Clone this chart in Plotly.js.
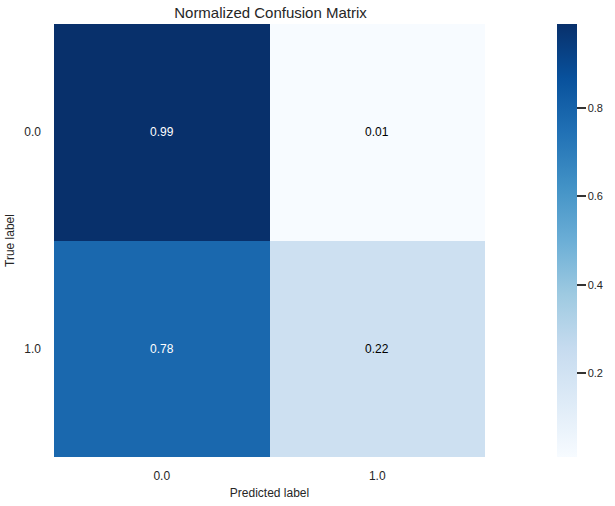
<!DOCTYPE html>
<html>
<head>
<meta charset="utf-8">
<script src="https://cdn.plot.ly/plotly-3.0.1.min.js"></script>
<style>
  html, body { margin: 0; padding: 0; background: #fff; }
  #chart { width: 615px; height: 506px; }
</style>
</head>
<body>
<div id="chart"></div>
<script>
// confusion matrix, rows = true label, cols = predicted label
const predictedLabels = ["0.0", "1.0"];
const trueLabels = ["0.0", "1.0"];
const rowTrue0 = [0.99, 0.01];
const rowTrue1 = [0.78, 0.22];
const cbTicks = [0.2, 0.4, 0.6, 0.8];

// matplotlib "Blues"
const blues = ["#f7fbff", "#deebf7", "#c6dbef", "#9ecae1", "#6baed6",
  "#4292c6", "#2171b5", "#08519c", "#08306b"];
const colorscale = blues.map((c, i) => [i / (blues.length - 1), c]);

const z = [rowTrue0, rowTrue1];
const flat = z.flat();
const zMin = Math.min(...flat);
const zMax = Math.max(...flat);
const FONT = "Liberation Sans, Arial, sans-serif";
const INK = "#262626";

const trace = {
  type: "heatmap",
  x: predictedLabels,
  y: trueLabels,
  z,
  zmin: zMin,
  zmax: zMax,
  colorscale,
  xgap: 0,
  ygap: 0,
  hoverinfo: "skip",
  colorbar: {
    x: 1.166,
    xanchor: "left",
    y: 0.5,
    yanchor: "middle",
    len: 1,
    lenmode: "fraction",
    thickness: 20,
    outlinewidth: 0,
    ticks: "outside",
    ticklen: 9,
    tickwidth: 2,
    tickcolor: "#333",
    tickvals: cbTicks,
    ticktext: cbTicks.map((v) => v.toFixed(1)),
    tickfont: { family: FONT, size: 11, color: INK },
    xpad: 0,
    ypad: 0,
  },
};

// cell labels: white on dark cells, black on light ones
const mid = (zMin + zMax) / 2;
const annotations = [];
z.forEach((row, r) => {
  row.forEach((v, c) => {
    annotations.push({
      x: predictedLabels[c],
      y: trueLabels[r],
      xref: "x",
      yref: "y",
      text: v.toFixed(2),
      showarrow: false,
      font: { family: FONT, size: 12, color: v > mid ? "#ffffff" : "#000000" },
    });
  });
});

const layout = {
  width: 615,
  height: 506,
  margin: { l: 54, r: 128, t: 24, b: 49 },
  paper_bgcolor: "#fff",
  plot_bgcolor: "#fff",
  font: { family: FONT, color: INK },
  title: {
    text: "Normalized Confusion Matrix",
    font: { family: FONT, size: 15, color: INK },
    x: (54 + 433 / 2) / 615,
    xanchor: "center",
    y: 1 - 13 / 506,
    yanchor: "middle",
  },
  xaxis: {
    type: "category",
    title: { text: "Predicted label", font: { size: 12, color: INK }, standoff: 6 },
    tickfont: { size: 12, color: INK },
    showgrid: false,
    zeroline: false,
    showline: false,
    ticks: "",
    ticklabelstandoff: 10,
  },
  yaxis: {
    type: "category",
    autorange: "reversed",
    title: { text: "True label", font: { size: 12, color: INK }, standoff: 7 },
    tickfont: { size: 12, color: INK },
    showgrid: false,
    zeroline: false,
    showline: false,
    ticks: "",
    ticklabelstandoff: 12,
  },
  annotations,
};

Plotly.newPlot("chart", [trace], layout, { displayModeBar: false, staticPlot: true });
</script>
</body>
</html>
